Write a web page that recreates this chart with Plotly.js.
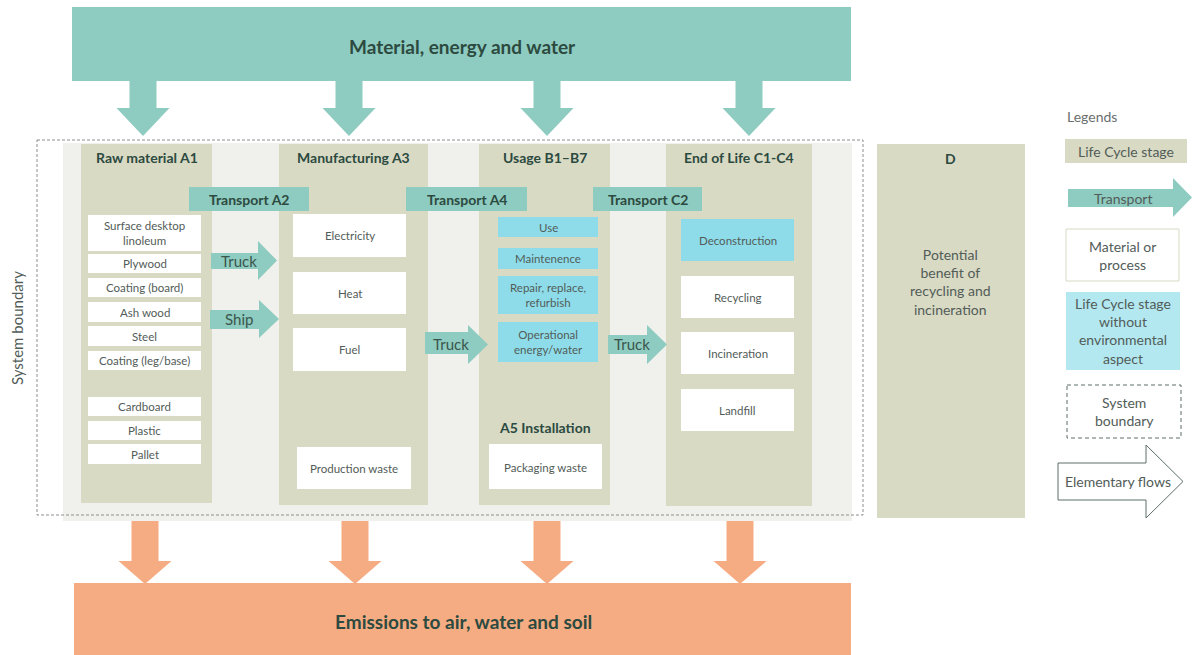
<!DOCTYPE html>
<html>
<head>
<meta charset="utf-8">
<script src="https://cdn.plot.ly/plotly-3.0.1.min.js"></script>
<style>
html,body{margin:0;padding:0;background:#fff;overflow:hidden;}
#chart{width:1192px;height:655px;}
</style>
</head>
<body>
<div id="chart"></div>
<script>
// ---------- Diagram content (labels) ----------
const inputFlow = "Material, energy and water";
const outputFlow = "Emissions to air, water and soil";
const stageTitles = ["Raw material A1", "Manufacturing A3", "Usage B1–B7", "End of Life C1-C4"];
const moduleDTitle = "D";
const moduleDText = "Potential<br>benefit of<br>recycling and<br>incineration";
const transportStages = ["Transport A2", "Transport A4", "Transport C2"];
const transportModesA2 = ["Truck", "Ship"];
const transportModeA4 = "Truck";
const transportModeC2 = "Truck";
const rawMaterials = ["Surface desktop<br>linoleum", "Plywood", "Coating (board)", "Ash wood", "Steel", "Coating (leg/base)"];
const packagingMaterials = ["Cardboard", "Plastic", "Pallet"];
const manufacturingInputs = ["Electricity", "Heat", "Fuel"];
const manufacturingWaste = "Production waste";
const usageStages = ["Use", "Maintenence", "Repair, replace,<br>refurbish", "Operational<br>energy/water"];
const installationTitle = "A5 Installation";
const installationWaste = "Packaging waste";
const endOfLifeOptions = ["Deconstruction", "Recycling", "Incineration", "Landfill"];
const endOfLifeNoImpact = [true, false, false, false];
const boundaryLabel = "System boundary";
const legendTitle = "Legends";
const legendItems = ["Life Cycle stage", "Transport", "Material or<br>process",
  "Life Cycle stage<br>without<br>environmental<br>aspect", "System<br>boundary", "Elementary flows"];

// ---------- Styles ----------
const C = {
  teal: "#8ecbc0", beige: "#d9dac4", bg: "#f0f1ec", blue: "#8edcea", blueLight: "#b3e8f1",
  orange: "#f6ac82", white: "#ffffff", dark: "#2c4a3f", text: "#525c58", dash: "#8a8f8c",
  flowLine: "#5d6e68"
};
const FONT = "Lato, 'Open Sans', sans-serif";

const shapes = [];
const annotations = [];

function rect(x0, y0, x1, y1, fill, line) {
  shapes.push({type: "rect", xref: "x", yref: "y", x0, y0, x1, y1, fillcolor: fill,
    line: line || {width: 0}, layer: "above"});
}
function path(d, fill, line) {
  shapes.push({type: "path", xref: "x", yref: "y", path: d, fillcolor: fill,
    line: line || {width: 0}, layer: "above"});
}
function downArrow(cx, yTop, yHead, yTip, shaftW, headW, fill) {
  const s = shaftW / 2, h = headW / 2;
  path(`M${cx - s},${yTop} L${cx + s},${yTop} L${cx + s},${yHead} L${cx + h},${yHead} L${cx},${yTip} L${cx - h},${yHead} L${cx - s},${yHead} Z`, fill);
}
function rightArrow(x0, xHead, xTip, yS0, yS1, yH0, yH1, fill, line) {
  const cy = (yH0 + yH1) / 2;
  path(`M${x0},${yS0} L${xHead},${yS0} L${xHead},${yH0} L${xTip},${cy} L${xHead},${yH1} L${xHead},${yS1} L${x0},${yS1} Z`, fill, line);
}
function txt(x, y, text, size, color, bold, extra) {
  annotations.push(Object.assign({
    x, y, xref: "x", yref: "y", text: bold ? "<b>" + text + "</b>" : text, showarrow: false,
    xanchor: "center", yanchor: "middle", align: "center",
    font: {family: FONT, size, color}
  }, extra || {}));
}

// ---------- Background areas ----------
rect(63, 143, 852, 521, C.bg);
rect(37, 140, 863, 515, "rgba(0,0,0,0)", {color: C.dash, width: 1, dash: "3px,2px"});

// Top input block and arrows
rect(72, 7, 851, 81, C.teal);
txt(462, 46, inputFlow, 19, C.dark, true);
[143, 349, 547, 749].forEach(cx => downArrow(cx, 81, 108, 136, 27, 53, C.teal));

// Bottom output block and arrows
[145, 355, 547, 740].forEach(cx => downArrow(cx, 521, 561, 584, 27, 53, C.orange));
rect(74, 583, 851, 655, C.orange);
txt(463, 621, outputFlow, 19, C.dark, true);

// Stage columns
const colX = [[81, 212], [279, 428], [479, 610], [666, 812]];
const colBottom = [503, 505, 505, 506];
colX.forEach((c, i) => {
  rect(c[0], 144, c[1], colBottom[i], C.beige);
  txt((c[0] + c[1]) / 2, 157, stageTitles[i], 14, C.dark, true);
});

// Module D
rect(877, 144, 1025, 518, C.beige);
txt(950, 158, moduleDTitle, 14, C.dark, true);
txt(950, 282, moduleDText, 14, C.text, false);

// Raw materials
const rawY = [[215, 251], [254, 273], [278, 297], [302, 322], [326, 346], [351, 370]];
rawMaterials.forEach((m, i) => {
  rect(88, rawY[i][0], 201, rawY[i][1], C.white);
  txt(144.5, (rawY[i][0] + rawY[i][1]) / 2, m, 11.5, C.text, false);
});
const packY = [[397, 416], [421, 440], [444, 464]];
packagingMaterials.forEach((m, i) => {
  rect(88, packY[i][0], 201, packY[i][1], C.white);
  txt(144.5, (packY[i][0] + packY[i][1]) / 2, m, 11.5, C.text, false);
});

// Manufacturing
const manY = [[214, 257], [272, 314], [328, 371]];
manufacturingInputs.forEach((m, i) => {
  rect(293, manY[i][0], 406, manY[i][1], C.white);
  txt(349.5, (manY[i][0] + manY[i][1]) / 2, m, 11.5, C.text, false);
});
rect(297, 447, 411, 489, C.white);
txt(354, 468, manufacturingWaste, 11.5, C.text, false);

// Usage
const useY = [[217, 237], [248, 269], [276, 314], [322, 362]];
usageStages.forEach((m, i) => {
  rect(498, useY[i][0], 598, useY[i][1], C.blue);
  txt(548, (useY[i][0] + useY[i][1]) / 2, m, 11.5, C.text, false);
});
txt(545, 427, installationTitle, 14, C.dark, true);
rect(489, 444, 602, 489, C.white);
txt(545.5, 467, installationWaste, 11.5, C.text, false);

// End of life
const eolY = [[219, 261], [276, 318], [332, 374], [389, 431]];
endOfLifeOptions.forEach((m, i) => {
  rect(681, eolY[i][0], 794, eolY[i][1], endOfLifeNoImpact[i] ? C.blue : C.white);
  txt(737.5, (eolY[i][0] + eolY[i][1]) / 2, m, 11.5, C.text, false);
});

// Transport labels
const trX = [[189, 309], [406, 527], [593, 702]];
transportStages.forEach((t, i) => {
  rect(trX[i][0], 187, trX[i][1], 211, C.teal);
  txt((trX[i][0] + trX[i][1]) / 2, 199, t, 14, C.dark, true);
});

// Transport arrows
rightArrow(211, 258, 277, 253, 269, 241, 280, C.teal);
txt(239, 261, transportModesA2[0], 15, "#3a554c", false);
rightArrow(210, 259, 279, 310, 329, 300, 338, C.teal);
txt(239, 319, transportModesA2[1], 15, "#3a554c", false);
rightArrow(425, 468, 488, 332, 354, 325, 364, C.teal);
txt(451, 344, transportModeA4, 15, "#3a554c", false);
rightArrow(608, 647, 667, 335, 354, 325, 364, C.teal);
txt(632, 344, transportModeC2, 15, "#3a554c", false);

// System boundary label
txt(17, 328, boundaryLabel, 15, C.text, false, {textangle: -90});

// Legend
txt(1065, 116, legendTitle, 14, "#6a6f6d", false, {xanchor: "left"});
rect(1065, 139, 1187, 163, C.beige);
txt(1126, 151, legendItems[0], 14, C.text, false);
rightArrow(1068, 1173, 1192, 189, 207, 178, 217, C.teal);
txt(1123, 198, legendItems[1], 14, C.text, false);
rect(1066, 229, 1179, 281, C.white, {color: C.beige, width: 1});
txt(1122.5, 255, legendItems[2], 14, C.text, false);
rect(1066, 292, 1180, 370, C.blueLight);
txt(1123, 331, legendItems[3], 14, C.text, false);
rect(1067, 385, 1181, 438, "rgba(0,0,0,0)", {color: C.flowLine, width: 1, dash: "4px,3px"});
txt(1124, 411, legendItems[4], 14, C.text, false);
rightArrow(1058, 1146, 1183, 463, 500, 445, 518, C.white, {color: C.flowLine, width: 1});
txt(1118, 481, legendItems[5], 14, C.text, false);

const layout = {
  width: 1192, height: 655,
  margin: {l: 0, r: 0, t: 0, b: 0},
  paper_bgcolor: "#ffffff", plot_bgcolor: "#ffffff",
  xaxis: {range: [0, 1192], visible: false, fixedrange: true},
  yaxis: {range: [655, 0], visible: false, fixedrange: true},
  showlegend: false,
  shapes, annotations
};
Plotly.newPlot("chart", [], layout, {staticPlot: true, displayModeBar: false});
</script>
</body>
</html>
